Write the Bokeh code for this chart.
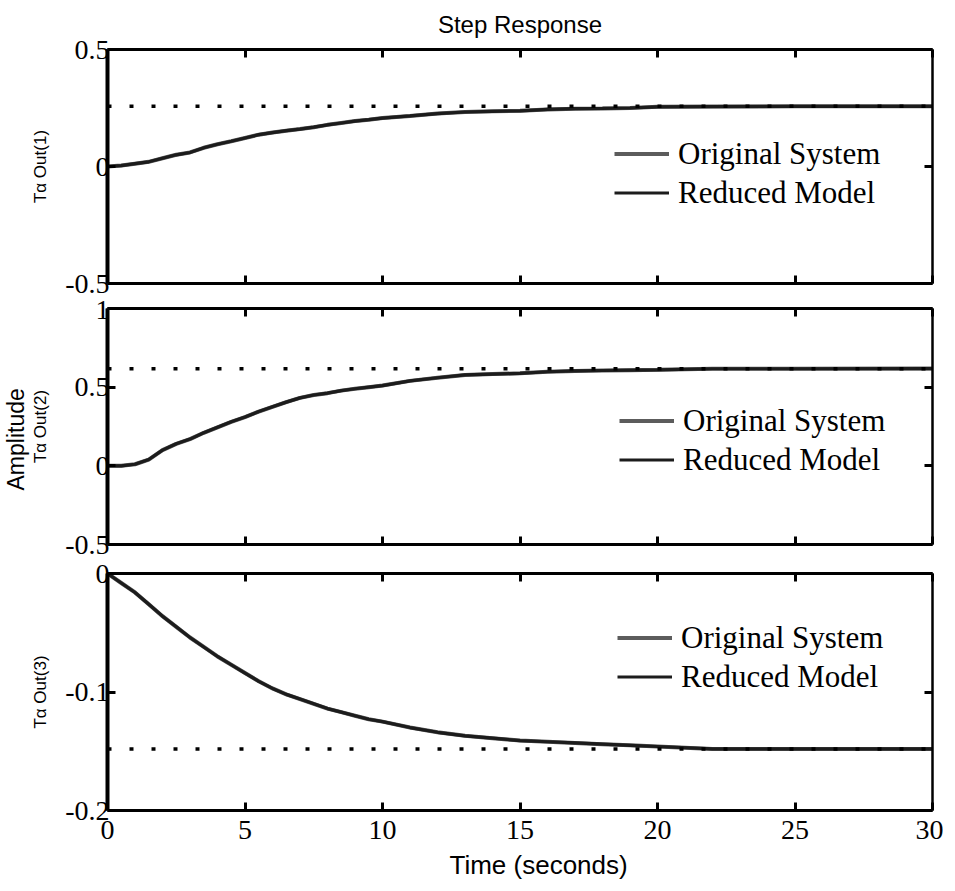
from bokeh.plotting import figure
from bokeh.models import (Range1d, LinearAxis, FixedTicker, Span, Title, Legend)
from bokeh.layouts import column
from bokeh.embed import file_html
from bokeh.resources import INLINE

# ---------------- data ----------------
time_s = [0, 0.5, 1, 1.5, 2, 2.5, 3, 3.5, 4, 4.5,
          5, 5.5, 6, 6.5, 7, 7.5, 8, 8.5, 9, 9.5,
          10, 11, 12, 13, 14, 15, 16, 17, 18, 19,
          20, 22, 25, 30]
out1 = [0, 0.004, 0.012, 0.02, 0.035, 0.05, 0.06, 0.08, 0.095, 0.108,
        0.122, 0.136, 0.145, 0.153, 0.16, 0.168, 0.178, 0.186, 0.194, 0.2,
        0.207, 0.216, 0.226, 0.233, 0.236, 0.238, 0.244, 0.247, 0.248, 0.25,
        0.255, 0.256, 0.257, 0.257]
out2 = [0, 0, 0.01, 0.04, 0.1, 0.14, 0.17, 0.21, 0.245, 0.28,
        0.31, 0.345, 0.375, 0.405, 0.432, 0.45, 0.462, 0.478, 0.49, 0.5,
        0.51, 0.54, 0.56, 0.578, 0.583, 0.588, 0.598, 0.603, 0.606, 0.608,
        0.61, 0.617, 0.617, 0.618]
out3 = [0, -0.008, -0.016, -0.026, -0.036, -0.045, -0.054, -0.062, -0.07, -0.077,
        -0.084, -0.091, -0.097, -0.102, -0.106, -0.110, -0.114, -0.117, -0.12, -0.123,
        -0.125, -0.13, -0.134, -0.137, -0.139, -0.141, -0.142, -0.143, -0.144, -0.145,
        -0.146, -0.148, -0.148, -0.148]
final_values = [0.257, 0.617, -0.148]

x_ticks = [0, 5, 10, 15, 20, 25, 30]
x_tick_labels = ["0", "5", "10", "15", "20", "25", "30"]
y_ranges = [(-0.5, 0.5), (-0.5, 1.0), (-0.2, 0.0)]
y_ticks = [[-0.5, 0, 0.5], [-0.5, 0, 0.5, 1], [-0.2, -0.1, 0]]
y_tick_labels = [["-0.5", "0", "0.5"], ["-0.5", "0", "0.5", "1"], ["-0.2", "-0.1", "0"]]
y_titles = ["T\u03b1 Out(1)", "T\u03b1 Out(2)", "T\u03b1 Out(3)"]
series_names = ["Original System", "Reduced Model"]
title_text = "Step Response"
x_title = "Time (seconds)"
shared_y_title = "Amplitude"

SERIF = "Liberation Serif"
SANS = "Liberation Sans"

# layout (pixels)
W = 943
heights = [300, 260, 328]
tops = [47, 8, 13]
bottoms = [17, 16, 78]
legend_locs = [(507, 71), (512, 65), (510, 114)]


def blank_axis(ticker, ticks, width):
    return LinearAxis(ticker=ticker, major_label_overrides={float(v): "" for v in ticks},
                      major_label_text_font_size="1px", major_label_standoff=0,
                      major_tick_in=8, major_tick_out=0, minor_tick_line_color=None,
                      major_tick_line_width=3, axis_line_width=width)


figs = []
for i in range(3):
    ys = [out1, out2, out3][i]
    p = figure(width=W, height=heights[i], output_backend="svg", toolbar_location=None,
               x_range=Range1d(0, 30), y_range=Range1d(*y_ranges[i]),
               x_axis_location=None, y_axis_location=None,
               min_border_left=106, min_border_right=11,
               min_border_top=tops[i], min_border_bottom=bottoms[i])
    for g in p.grid:
        g.visible = False
    p.outline_line_color = None
    p.background_fill_color = "white"
    p.border_fill_color = "white"

    yt = FixedTicker(ticks=y_ticks[i], minor_ticks=[])
    xt = FixedTicker(ticks=x_ticks, minor_ticks=[])
    yover = {float(v): s for v, s in zip(y_ticks[i], y_tick_labels[i])}
    xover = {float(v): s for v, s in zip(x_ticks, x_tick_labels)}

    left = LinearAxis(ticker=yt, major_label_overrides=yover,
                      major_label_text_font=SERIF, major_label_text_font_size="28px",
                      major_label_text_color="black", major_label_standoff=-2,
                      major_tick_in=8, major_tick_out=0, minor_tick_line_color=None,
                      major_tick_line_width=3, axis_line_width=4,
                      axis_label=y_titles[i], axis_label_text_font=SANS,
                      axis_label_text_font_size="17px", axis_label_text_font_style="normal",
                      axis_label_text_color="black", axis_label_standoff=12)
    p.add_layout(left, "left")
    p.add_layout(blank_axis(yt, y_ticks[i], 2.5), "right")
    p.add_layout(blank_axis(xt, x_ticks, 3), "above")
    if i == 2:
        bottom = LinearAxis(ticker=xt, major_label_overrides=xover,
                            major_label_text_font=SERIF, major_label_text_font_size="28px",
                            major_label_text_color="black", major_label_standoff=10,
                            major_tick_in=8, major_tick_out=0, minor_tick_line_color=None,
                            major_tick_line_width=3, axis_line_width=3)
        p.add_layout(bottom, "below")
    else:
        p.add_layout(blank_axis(xt, x_ticks, 3), "below")

    # steady-state (final value) dotted line
    p.add_layout(Span(location=final_values[i], dimension="width", line_color="black",
                      line_width=3.5, line_dash="4 18"))

    r1 = p.line(time_s, ys, line_color="#5c5c5c", line_width=4)
    r2 = p.line(time_s, ys, line_color="#1c1c1c", line_width=3.2)
    leg = Legend(items=[(series_names[0], [r1]), (series_names[1], [r2])],
                 location=legend_locs[i], orientation="vertical",
                 label_text_font=SERIF, label_text_font_size="31px", label_text_color="black",
                 glyph_width=55, glyph_height=39, label_height=39, label_standoff=9,
                 spacing=0, padding=0, margin=0,
                 border_line_color=None, background_fill_alpha=0)
    p.add_layout(leg)
    figs.append(p)

# title above the first panel
figs[0].add_layout(Title(text=title_text, align="center", vertical_align="top",
                         text_font=SANS, text_font_size="24px", text_font_style="normal",
                         text_color="black", standoff=20), "above")
# shared y title, left of the middle panel
figs[1].add_layout(Title(text=shared_y_title, align="left", offset=54, text_font=SANS,
                         text_font_size="23px", text_font_style="normal",
                         text_color="black", standoff=0), "left")
# x title under the bottom panel
figs[2].add_layout(Title(text=x_title, align="left", offset=342, text_font=SANS,
                         text_font_size="26px", text_font_style="normal",
                         text_color="black", standoff=12), "below")

layout = column(*figs, spacing=0)
open("out.html", "w").write(file_html(layout, INLINE))
